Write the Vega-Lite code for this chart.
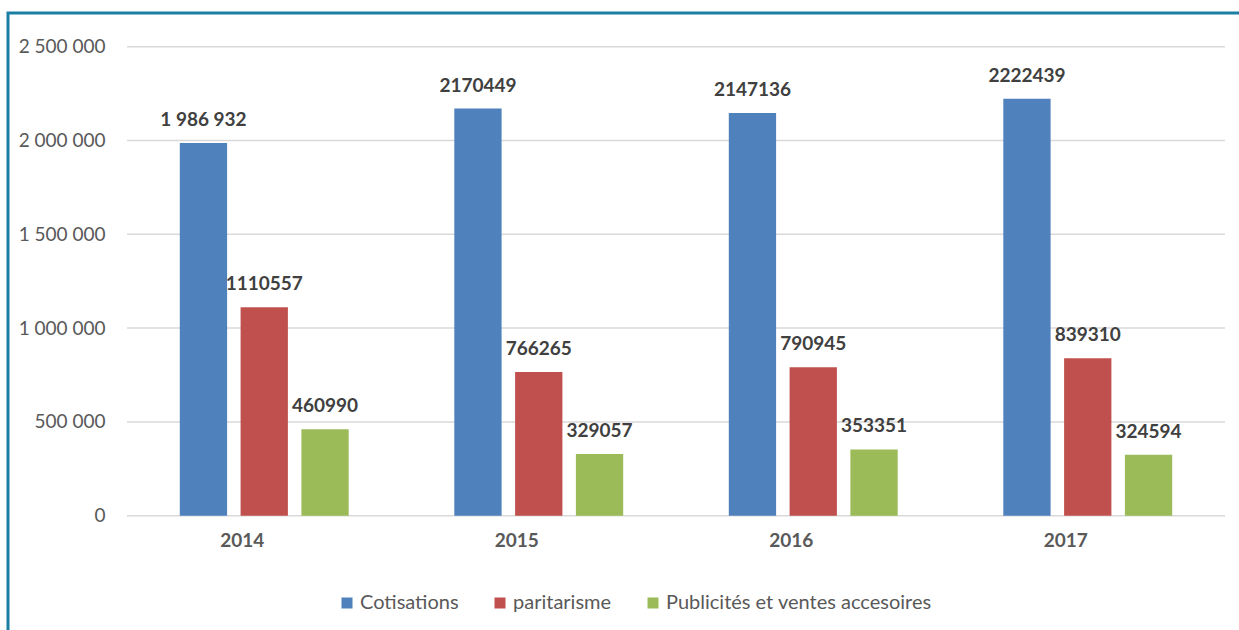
{
  "$schema": "https://vega.github.io/schema/vega-lite/v6.json",
  "width": 1235,
  "height": 621,
  "autosize": "none",
  "padding": {"left": 8, "top": 13, "right": -4, "bottom": -4},
  "background": "white",
  "datasets": {
    "main": [
      {"year": "2014", "series": "Cotisations", "value": 1986932, "label": "1 986 932"},
      {"year": "2014", "series": "paritarisme", "value": 1110557, "label": "1110557"},
      {"year": "2014", "series": "Publicités et ventes accesoires", "value": 460990, "label": "460990"},
      {"year": "2015", "series": "Cotisations", "value": 2170449, "label": "2170449"},
      {"year": "2015", "series": "paritarisme", "value": 766265, "label": "766265"},
      {"year": "2015", "series": "Publicités et ventes accesoires", "value": 329057, "label": "329057"},
      {"year": "2016", "series": "Cotisations", "value": 2147136, "label": "2147136"},
      {"year": "2016", "series": "paritarisme", "value": 790945, "label": "790945"},
      {"year": "2016", "series": "Publicités et ventes accesoires", "value": 353351, "label": "353351"},
      {"year": "2017", "series": "Cotisations", "value": 2222439, "label": "2222439"},
      {"year": "2017", "series": "paritarisme", "value": 839310, "label": "839310"},
      {"year": "2017", "series": "Publicités et ventes accesoires", "value": 324594, "label": "324594"}
    ],
    "grid": [
      {"v": 0}, {"v": 500000}, {"v": 1000000}, {"v": 1500000}, {"v": 2000000}, {"v": 2500000}
    ]
  },
  "layer": [
    {
      "data": {"name": "grid"},
      "mark": {"type": "rule", "color": "#d9d9d9", "strokeWidth": 1.5},
      "encoding": {
        "y": {"field": "v", "type": "quantitative", "title": null,
              "scale": {"domain": [-630598, 2679638], "nice": false, "zero": false}},
        "x": {"datum": "2014", "type": "nominal", "bandPosition": 0},
        "x2": {"datum": "2017", "bandPosition": 1}
      }
    },
    {
      "data": {"name": "main"},
      "mark": {"type": "bar"},
      "encoding": {
        "x": {"field": "year", "type": "nominal", "title": null,
              "scale": {"domain": ["2014", "2015", "2016", "2017"], "paddingInner": 0, "paddingOuter": 0.24954, "align": 0.8686},
              "axis": {"orient": "bottom", "offset": -118.3, "labelPadding": 25, "labelAngle": 0, "labelFontWeight": "bold", "labelFontSize": 19}},
        "xOffset": {"field": "series", "type": "nominal",
                    "scale": {"domain": ["Cotisations", "paritarisme", "Publicités et ventes accesoires"], "paddingInner": 0.222, "paddingOuter": 0.8685}},
        "y": {"field": "value", "type": "quantitative", "title": null,
              "scale": {"domain": [-630598, 2679638], "nice": false, "zero": false},
              "axis": {"values": [0, 500000, 1000000, 1500000, 2000000, 2500000], "format": ",d", "offset": -119, "labelPadding": 22, "labelFontSize": 19}},
        "y2": {"datum": 0},
        "color": {"field": "series", "type": "nominal", "title": null,
                  "scale": {"domain": ["Cotisations", "paritarisme", "Publicités et ventes accesoires"], "range": ["#4F81BD", "#C0504D", "#9BBB59"]},
                  "legend": {"orient": "none", "direction": "horizontal", "legendX": 329, "legendY": 580, "columns": 3}}
      }
    },
    {
      "data": {"name": "main"},
      "mark": {"type": "text", "dy": -17, "baseline": "alphabetic", "fontWeight": "bold", "fontSize": 19, "font": "Lato", "color": "#404040"},
      "encoding": {
        "x": {"field": "year", "type": "nominal", "title": null},
        "xOffset": {"field": "series", "type": "nominal"},
        "y": {"field": "value", "type": "quantitative", "title": null},
        "text": {"field": "label"}
      }
    }
  ],
  "config": {
    "locale": {"number": {"decimal": ",", "thousands": " ", "grouping": [3], "currency": ["", " €"]}},
    "view": {"stroke": "#1b7fa3", "strokeWidth": 3},
    "axis": {"grid": false, "domain": false, "ticks": false, "labelFont": "Lato", "labelColor": "#595959", "title": null},
    "legend": {"labelFont": "Lato", "labelFontSize": 20, "labelColor": "#595959", "symbolType": "square", "symbolSize": 121, "symbolStrokeWidth": 0, "symbolOpacity": 1, "columnPadding": 31, "labelOffset": 3, "padding": 0, "labelLimit": 400}
  }
}
